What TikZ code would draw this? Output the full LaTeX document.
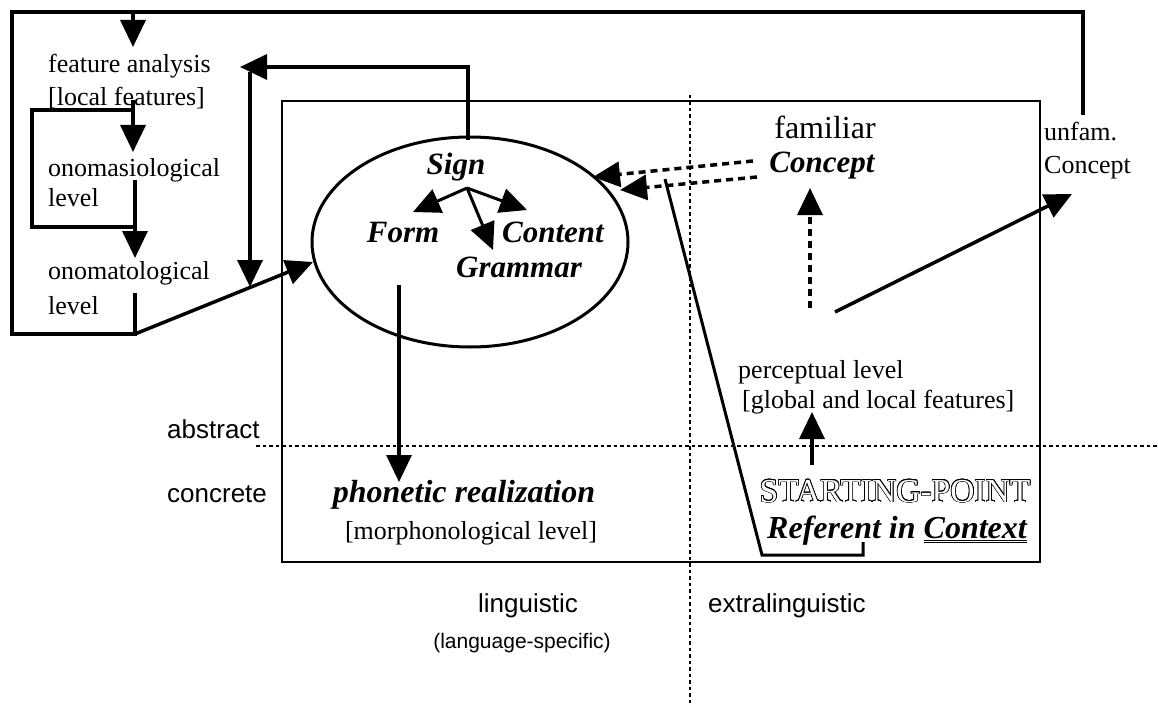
\documentclass[tikz,border=0pt]{standalone}
\usepackage{fontspec}
\setmainfont{Liberation Serif}
\setsansfont{Liberation Sans}
\usepackage{contour}
\contourlength{0.7pt}
\usetikzlibrary{arrows.meta,shapes.geometric}
\tikzset{
  txt/.style={inner sep=0pt, font=\fontsize{26}{30}\selectfont},
  bigtxt/.style={inner sep=0pt, font=\fontsize{31}{36}\selectfont\bfseries\itshape},
  sanstxt/.style={inner sep=0pt, font=\fontsize{26}{30}\selectfont\sffamily},
  heavy/.style={line width=3.5pt},
  heavydash/.style={line width=3.5pt, dash pattern=on 7pt off 5pt},
  dotline/.style={line width=1.5pt, dash pattern=on 3.5pt off 3pt},
}
\begin{document}
\begin{tikzpicture}[x=1pt, y=-1pt, >={Triangle[length=27pt,width=25pt]}]
\useasboundingbox (0,0) rectangle (1158,706);
\draw[line width=1.3pt] (282,101) rectangle (1040,562);
\draw[dotline] (690,95) -- (690,706) (256,446) -- (1158,446);
\node[draw, ellipse, line width=3pt, minimum width=316pt, minimum height=210pt] (ell) at (470,242) {};
% left column
\node[txt, anchor=base west] (fa1) at (48,73) {feature analysis};
\node[txt, anchor=base west] (fa2) at (48,106) {[local features]};
\node[txt, anchor=base west] (on1) at (48,176) {onomasiological};
\node[txt, anchor=base west] (on2) at (48,206) {level};
\node[txt, anchor=base west] (ot1) at (48,279) {onomatological};
\node[txt, anchor=base west] (ot2) at (48,314) {level};
% sign
\node[bigtxt, anchor=base] (sign) at (456,174) {Sign};
\node[bigtxt, anchor=base] (form) at (403,242) {Form};
\node[bigtxt, anchor=base] (cont) at (553,242) {Content};
\node[bigtxt, anchor=base] (gram) at (519,277) {Grammar};
\node[bigtxt, anchor=base, font=\fontsize{32}{36}\selectfont\bfseries\itshape] (phon) at (464,502) {phonetic realization};
\node[txt, anchor=base] (morph) at (471,539) {[morphonological level]};
% concept side
\node[txt, anchor=base, font=\fontsize{32}{36}\selectfont] (fam) at (825,139) {familiar};
\node[bigtxt, anchor=base] (conc) at (822,172) {Concept};
\node[txt, anchor=base west] (unf1) at (1044,140) {unfam.};
\node[txt, anchor=base west] (unf2) at (1044,173) {Concept};
\node[txt, anchor=base west] (perc) at (738,378) {perceptual level};
\node[txt, anchor=base west] (glob) at (742,408) {[global and local features]};
\node[anchor=base, inner sep=0pt, font=\fontsize{33.5}{36}\selectfont] (start) at (895,502) {\color{white}\contour{black}{STARTING-POINT}};
\node[bigtxt, anchor=base, font=\fontsize{32}{36}\selectfont\bfseries\itshape] (ref) at (897,538) {Referent in \underline{\underline{Context}}};
% axis labels
\node[sanstxt, anchor=base west] (abs) at (167,438) {abstract};
\node[sanstxt, anchor=base west] (concr) at (167,502) {concrete};
\node[sanstxt, anchor=base] (ling) at (528,612) {linguistic};
\node[sanstxt, anchor=base, font=\fontsize{21}{24}\selectfont\sffamily] (langsp) at (522,648) {(language-specific)};
\node[sanstxt, anchor=base west] (extra) at (708,612) {extralinguistic};
% connector points
\coordinate (TL) at (12,12); \coordinate (TK) at (133,12); \coordinate (FAin) at (133,47);
\coordinate (UC) at (1083,115); \coordinate (BL) at (12,334); \coordinate (BR) at (135,334);
\coordinate (OTs) at (135,293); \coordinate (Ein) at (313,262);
\coordinate (IL1) at (133,110); \coordinate (IL2) at (32,110); \coordinate (IL3) at (32,227); \coordinate (IL4) at (135,227);
\coordinate (FAs) at (133,100); \coordinate (ONin) at (133,152); \coordinate (ONs) at (135,180); \coordinate (OTin) at (135,258);
\coordinate (SGt) at (468,140); \coordinate (SGu) at (468,67); \coordinate (FAr) at (240,67);
\coordinate (VT) at (250,72); \coordinate (VB) at (250,287);
\coordinate (SG) at (467,188); \coordinate (FMt) at (413,212); \coordinate (CTt) at (527,210); \coordinate (GRt) at (493,250);
\coordinate (PHs) at (399,285); \coordinate (PHt) at (399,482);
\coordinate (D1s) at (753,161); \coordinate (D1t) at (593,177);
\coordinate (D2s) at (757,177); \coordinate (D2t) at (620,190);
\coordinate (R1) at (665,179); \coordinate (R2) at (762,555); \coordinate (R3) at (863,555); \coordinate (R4) at (863,542);
\coordinate (PCs) at (810,308); \coordinate (PCt) at (810,188);
\coordinate (UNs) at (835,312); \coordinate (UNt) at (1072,194);
\coordinate (SPs) at (812,465); \coordinate (SPt) at (812,412);
% connectors
\draw[heavy, ->] (UC) |- (TK) -- (FAin);
\draw[heavy] (OTs) -- (BR) -- (BL) -- (TL) -- (TK);
\draw[heavy, ->] (BR) -- (Ein);
\draw[heavy] (IL4) -- (IL3) -- (IL2) -- (IL1);
\draw[heavy, ->] (FAs) -- (ONin);
\draw[heavy, ->] (ONs) -- (OTin);
\draw[heavy, ->] (SGt) -- (SGu) -- (FAr);
\draw[heavy, ->] (VT) -- (VB);
\foreach \t in {FMt, CTt, GRt} {
\draw[line width=3pt, ->] (SG) -- (\t);}
\draw[heavy, ->] (PHs) -- (PHt);
\draw[heavydash, ->] (D1s) -- (D1t);
\draw[heavydash, ->] (D2s) -- (D2t);
\draw[line width=3pt] (R1) -- (R2) -- (R3) -- (R4);
\draw[heavydash, ->] (PCs) -- (PCt);
\draw[heavy, ->] (UNs) -- (UNt);
\draw[heavy, ->] (SPs) -- (SPt);
\end{tikzpicture}
\end{document}
